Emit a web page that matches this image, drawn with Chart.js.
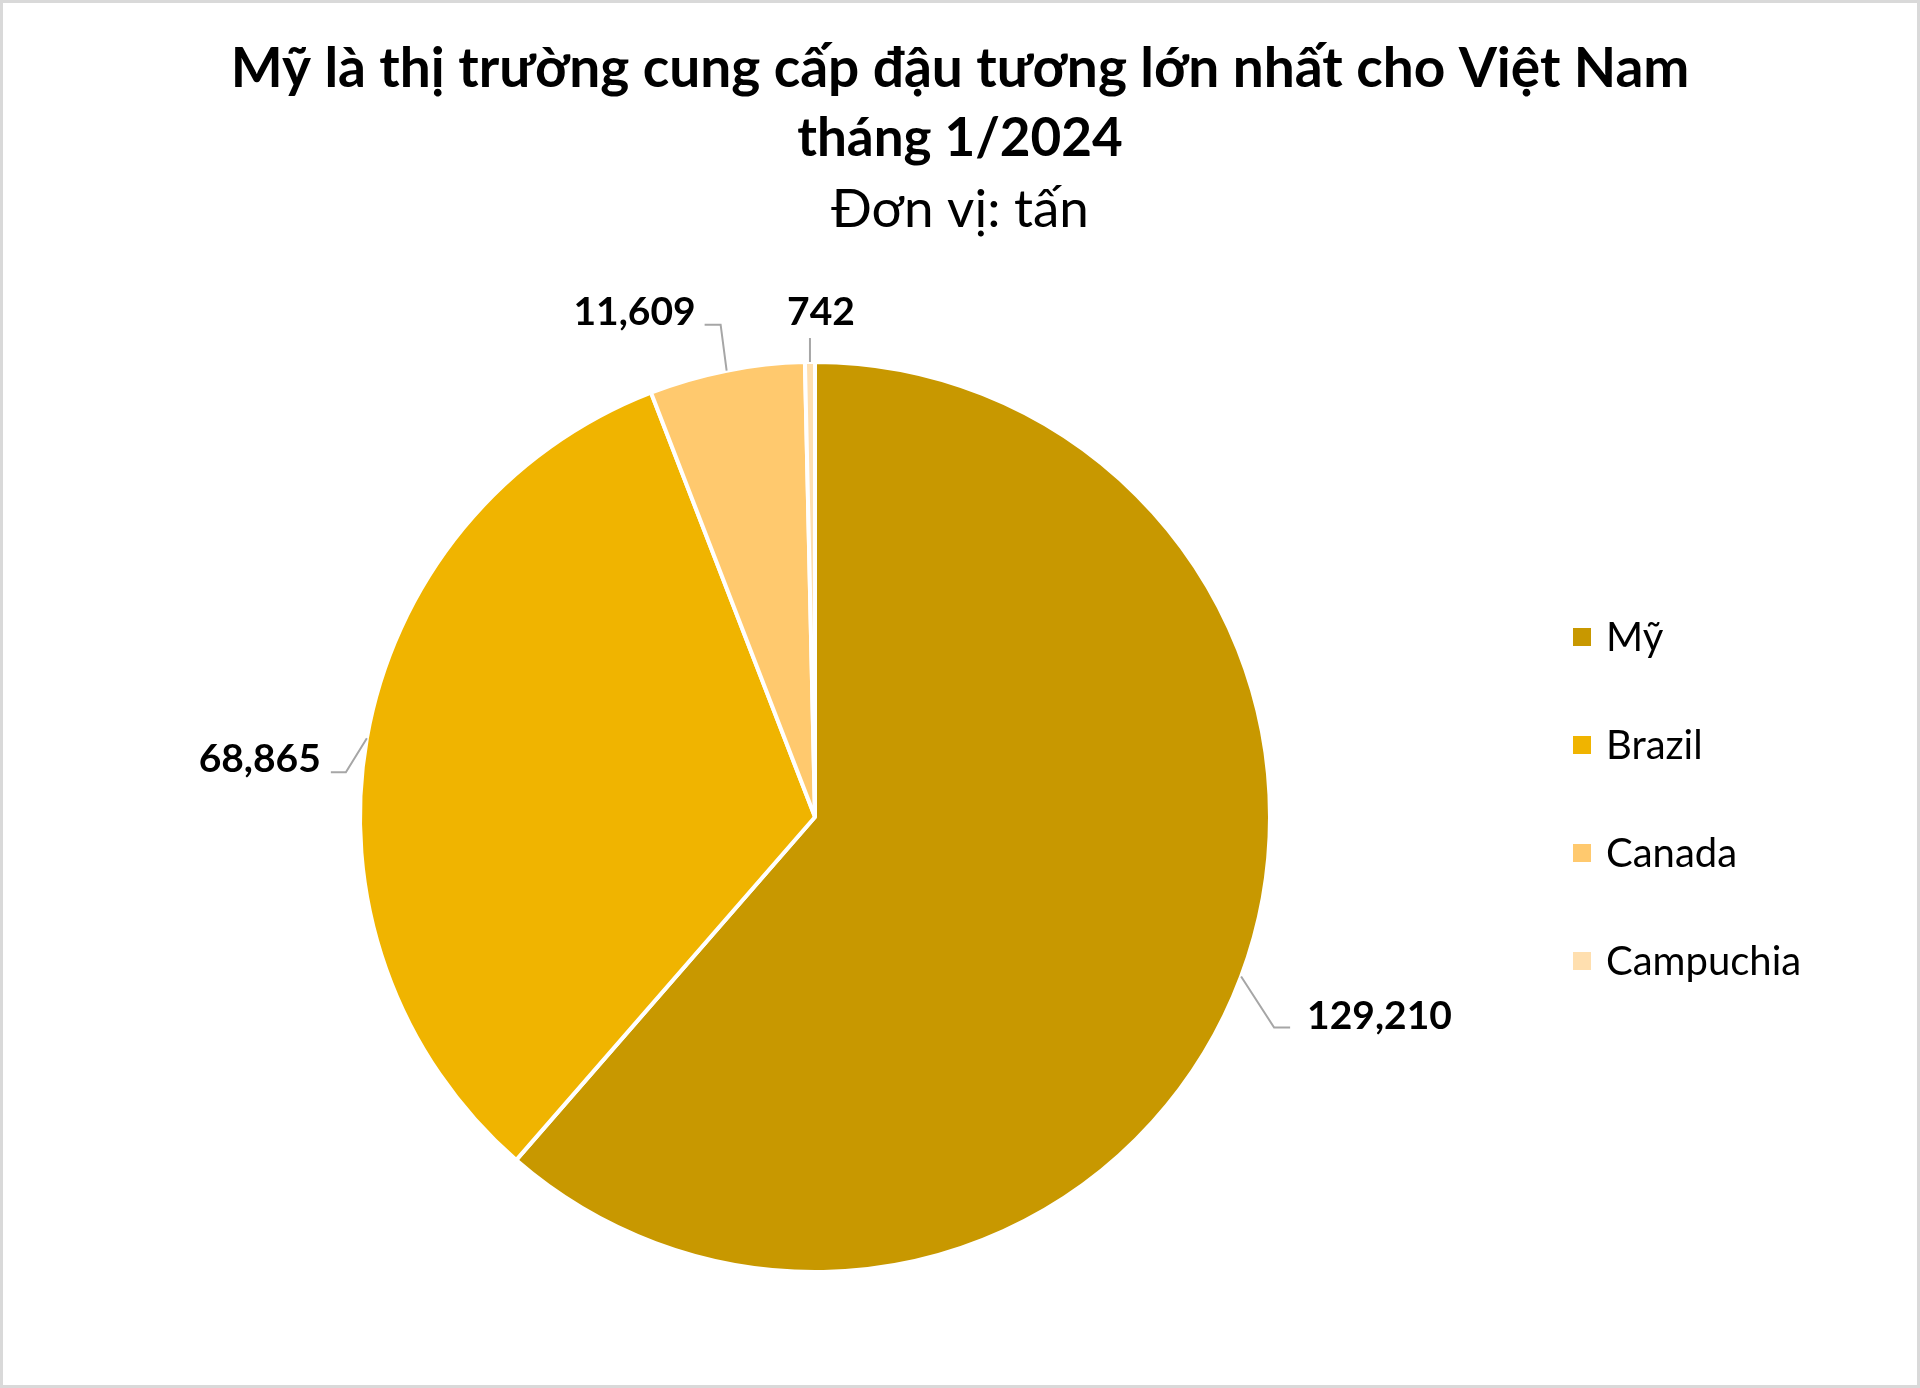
<!DOCTYPE html>
<html><head><meta charset="utf-8">
<script src="https://cdn.jsdelivr.net/npm/chart.js@4.4.1/dist/chart.umd.min.js"></script>
<style>html,body{margin:0;padding:0;background:#fff;overflow:hidden}canvas{display:block}</style>
</head><body>
<canvas id="c" width="1920" height="1388"></canvas>
<script>
const categories = ['Mỹ', 'Brazil', 'Canada', 'Campuchia'];
const values = [129210, 68865, 11609, 742];
const sliceColors = ['#C89800', '#F0B400', '#FFC96E', '#FFDFAF'];
const titleLines = ['Mỹ là thị trường cung cấp đậu tương lớn nhất cho Việt Nam', 'tháng 1/2024'];
const subtitleText = 'Đơn vị: tấn';

// leader-line styling relative to each slice's outer edge point
const leaderStyle = [
  {elbow: [33, 51], tail: 16, align: 'left', gap: 17, dy: 1},
  {elbow: [-21, 34], tail: -15, align: 'right', gap: 10, dy: 0},
  {elbow: [-6, -46], tail: -16, align: 'right', gap: 9, dy: 0},
  {elbow: [0, -24], tail: 0, align: 'center', gap: 11, dy: -13}
];

const decor = {
  id: 'decor',
  afterDraw(chart) {
    const ctx = chart.ctx;
    const W = chart.width, H = chart.height;
    ctx.save();
    // outer border
    ctx.strokeStyle = '#D9D9D9';
    ctx.lineWidth = 3;
    ctx.strokeRect(1.5, 1.5, W - 3, H - 3);

    // titles
    ctx.fillStyle = '#000';
    ctx.textAlign = 'center';
    ctx.textBaseline = 'alphabetic';
    ctx.font = 'bold 55px Lato';
    ctx.fillText(titleLines[0], W / 2, 87);
    ctx.font = 'bold 53px Lato';
    ctx.fillText(titleLines[1], W / 2, 156);
    ctx.font = '53px Lato';
    ctx.fillText(subtitleText, W / 2, 227);

    // legend
    const labels = chart.data.labels;
    const colors = chart.data.datasets[0].backgroundColor;
    const legTop = 637, legStep = 108, box = 18, boxX = 1573, textX = 1606;
    ctx.textAlign = 'left';
    ctx.font = '40px Lato';
    labels.forEach((lab, i) => {
      const cy = legTop + i * legStep;
      ctx.fillStyle = colors[i];
      ctx.fillRect(boxX, cy - box / 2, box, box);
      ctx.fillStyle = '#000';
      ctx.fillText(lab, textX, cy + 14);
    });

    // data labels with leader lines
    const meta = chart.getDatasetMeta(0);
    ctx.font = 'bold 39px Lato';
    meta.data.forEach((arc, i) => {
      const p = arc.getProps(['x', 'y', 'startAngle', 'endAngle', 'outerRadius'], true);
      const mid = (p.startAngle + p.endAngle) / 2;
      const ex = p.x + Math.cos(mid) * p.outerRadius;
      const ey = p.y + Math.sin(mid) * p.outerRadius;
      const s = leaderStyle[i];
      const bx = ex + s.elbow[0], by = ey + s.elbow[1];
      const tx = bx + s.tail;
      ctx.strokeStyle = '#A6A6A6';
      ctx.lineWidth = 2;
      ctx.beginPath();
      ctx.moveTo(ex, ey);
      ctx.lineTo(bx, by);
      if (s.tail) ctx.lineTo(tx, by);
      ctx.stroke();
      const txt = chart.data.datasets[0].data[i].toLocaleString('en-US');
      ctx.fillStyle = '#000';
      ctx.textAlign = s.align;
      let lx;
      if (s.align === 'left') lx = tx + s.gap;
      else if (s.align === 'right') lx = tx - s.gap;
      else lx = tx + s.gap;
      ctx.fillText(txt, lx, by + s.dy);
    });
    ctx.restore();
  }
};

new Chart(document.getElementById('c'), {
  type: 'pie',
  data: {
    labels: categories,
    datasets: [{
      data: values,
      backgroundColor: sliceColors,
      borderColor: '#FFFFFF',
      borderWidth: 4,
      radius: 455,
      hoverOffset: 0
    }]
  },
  options: {
    responsive: false,
    devicePixelRatio: 1,
    animation: false,
    events: [],
    layout: {padding: {left: 300, right: 590, top: 300, bottom: 54}},
    plugins: {legend: {display: false}, tooltip: {enabled: false}}
  },
  plugins: [decor]
});
</script>
</body></html>
